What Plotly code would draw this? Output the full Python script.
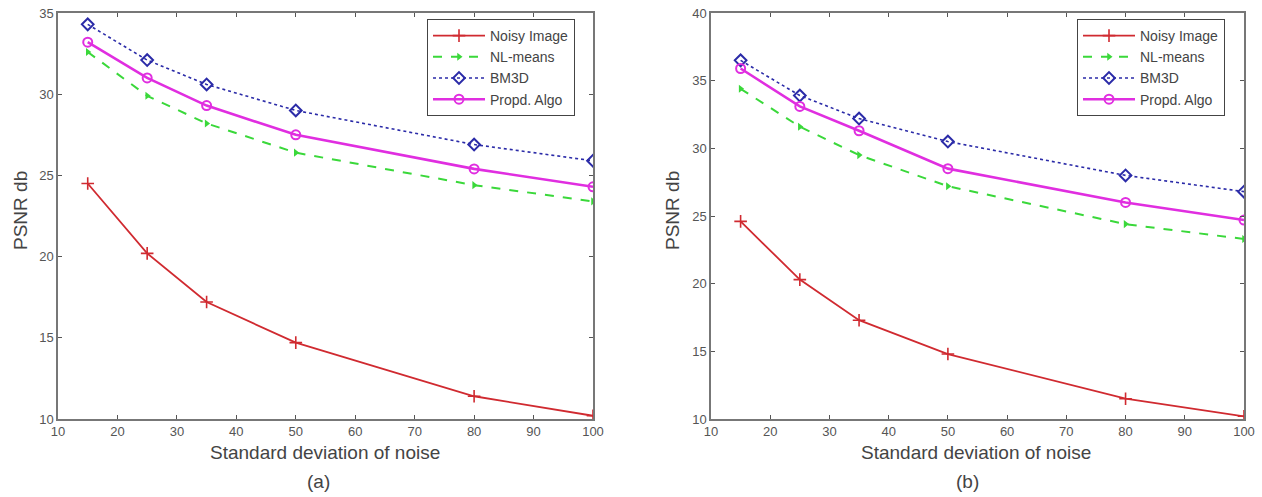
import plotly.graph_objects as go

noise_levels = [15, 25, 35, 50, 80, 100]

# Panel (a)
a_noisy = [24.5, 20.2, 17.2, 14.7, 11.4, 10.2]
a_nlmeans = [32.6, 29.9, 28.2, 26.4, 24.4, 23.4]
a_bm3d = [34.3, 32.1, 30.6, 29.0, 26.9, 25.9]
a_propd = [33.2, 31.0, 29.3, 27.5, 25.4, 24.3]

# Panel (b)
b_noisy = [24.6, 20.3, 17.3, 14.8, 11.5, 10.2]
b_nlmeans = [34.4, 31.6, 29.5, 27.2, 24.4, 23.3]
b_bm3d = [36.5, 33.9, 32.2, 30.5, 28.0, 26.8]
b_propd = [35.9, 33.1, 31.3, 28.5, 26.0, 24.7]

series_names = ["Noisy Image", "NL-means", "BM3D", "Propd. Algo"]
x_ticks = [10, 20, 30, 40, 50, 60, 70, 80, 90, 100]
a_yticks = [10, 15, 20, 25, 30, 35]
b_yticks = [10, 15, 20, 25, 30, 35, 40]

styles = [
    dict(line=dict(color="#d02a30", width=1.8, dash="solid"),
         marker=dict(symbol="cross-thin-open", size=9, color="#d02a30", line=dict(width=1.6, color="#d02a30"))),
    dict(line=dict(color="#3ad83a", width=2, dash="dash"),
         marker=dict(symbol="triangle-right", size=7, color="#3ad83a")),
    dict(line=dict(color="#2b2ba8", width=1.6, dash="dot"),
         marker=dict(symbol="diamond-open", size=9, color="#2b2ba8", line=dict(width=2, color="#2b2ba8"))),
    dict(line=dict(color="#e02ee0", width=2.6, dash="solid"),
         marker=dict(symbol="circle-open", size=9, color="#e02ee0", line=dict(width=2, color="#e02ee0"))),
]

fig = go.Figure()

panels = [
    ("x", "y", "legend", [a_noisy, a_nlmeans, a_bm3d, a_propd]),
    ("x2", "y2", "legend2", [b_noisy, b_nlmeans, b_bm3d, b_propd]),
]
for xa, ya, lg, data in panels:
    for name, vals, st in zip(series_names, data, styles):
        fig.add_trace(go.Scatter(
            x=noise_levels, y=vals, name=name, mode="lines+markers",
            xaxis=xa, yaxis=ya, legend=lg, **st))

W, H = 1262, 497


def px(x):
    return x / W


def py(y):
    return (H - y) / H


FAM = "Liberation Sans, Arial, sans-serif"
font = dict(family=FAM, size=13, color="#555")
axis_common = dict(
    showline=True, linecolor="#777", linewidth=1.5, mirror="allticks",
    ticks="inside", ticklen=4, tickcolor="#555", showgrid=False, zeroline=False,
    tickfont=font, automargin=False, ticklabeloverflow="allow",
)

legend_common = dict(
    xanchor="left", yanchor="top",
    bordercolor="#444", borderwidth=1, bgcolor="white",
    font=dict(family=FAM, size=14, color="#444"),
    tracegroupgap=0, itemwidth=52,
)

fig.update_layout(
    width=W, height=H, plot_bgcolor="white", paper_bgcolor="white",
    margin=dict(l=0, r=0, t=0, b=0, pad=0, autoexpand=False),
    font=font,
    xaxis=dict(domain=[px(58), px(593)], range=[10, 100], tickvals=x_ticks, anchor="y", **axis_common),
    yaxis=dict(domain=[py(419), py(13)], range=[10, 35], tickvals=a_yticks, anchor="x", **axis_common),
    xaxis2=dict(domain=[px(711), px(1244)], range=[10, 100], tickvals=x_ticks, anchor="y2", **axis_common),
    yaxis2=dict(domain=[py(419), py(13)], range=[10, 40], tickvals=b_yticks, anchor="x2", **axis_common),
    legend=dict(x=px(427), y=py(19), **legend_common),
    legend2=dict(x=px(1077), y=py(19), **legend_common),
    showlegend=True,
)

title_font = dict(family=FAM, size=19, color="#444")
annotations = [
    dict(text="PSNR db", x=px(20), y=py(211), textangle=-90),
    dict(text="PSNR db", x=px(672), y=py(211), textangle=-90),
    dict(text="Standard deviation of noise", x=px(325), y=py(452)),
    dict(text="Standard deviation of noise", x=px(976), y=py(452)),
    dict(text="(a)", x=px(318), y=py(481)),
    dict(text="(b)", x=px(967), y=py(481)),
]
for a in annotations:
    fig.add_annotation(xref="paper", yref="paper", showarrow=False,
                       xanchor="center", yanchor="middle", font=title_font, **a)

fig.write_html("out.html", config={"displayModeBar": False},
               post_script="document.body.style.margin='0px';")
